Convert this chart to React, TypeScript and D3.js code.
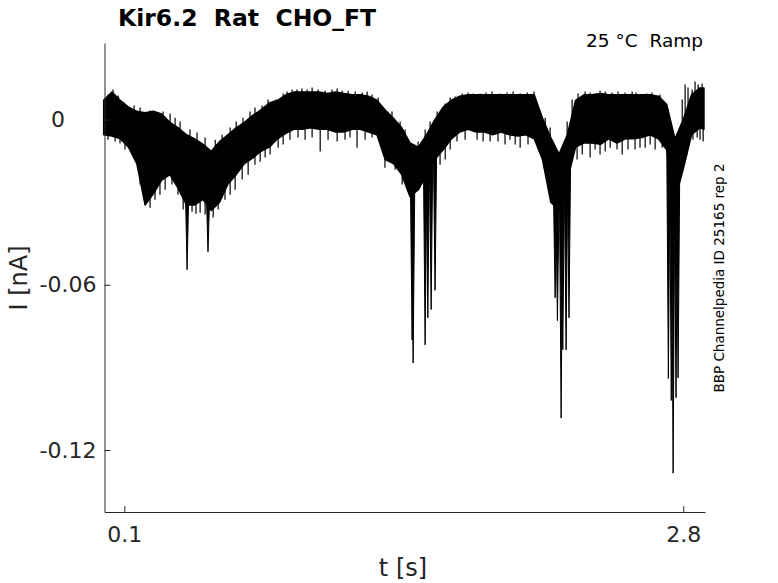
import {useEffect, useRef} from "react";
import * as d3 from "d3";

const SvgWidth = 778;
const SvgHeight = 583;

// envelope of the overlaid sweeps (t in s, I in nA)
const tBand = [0, 0.04, 0.08, 0.12, 0.16, 0.20, 0.24, 0.28, 0.32, 0.36, 0.40, 0.44, 0.48, 0.52, 0.56, 0.60,
    0.64, 0.68, 0.72, 0.76, 0.80, 0.84, 0.88, 0.92, 0.96, 1.00, 1.04, 1.08, 1.12, 1.16, 1.20, 1.24, 1.28,
    1.32, 1.36, 1.40, 1.44, 1.48, 1.52, 1.56, 1.60, 1.64, 1.68, 1.72, 1.76, 1.80, 1.84, 1.88, 1.92, 1.96,
    2.00, 2.04, 2.08, 2.12, 2.16, 2.20, 2.24, 2.28, 2.32, 2.36, 2.40, 2.44, 2.48, 2.52, 2.56, 2.60, 2.64,
    2.68, 2.72, 2.76, 2.80, 2.84, 2.88, 2.90];
const bandHi = [0.007, 0.010, 0.007, 0.0045, 0.003, 0.0025, 0.003, 0.002, -0.001, -0.003, -0.0055, -0.007,
    -0.009, -0.0115, -0.008, -0.0055, -0.003, -0.001, 0.0015, 0.0035, 0.006, 0.007, 0.009, 0.010, 0.010,
    0.010, 0.010, 0.0095, 0.010, 0.0095, 0.009, 0.009, 0.0085, 0.007, 0.0035, 0.0005, -0.003, -0.0085,
    -0.010, -0.0055, 0, 0.0045, 0.007, 0.0085, 0.009, 0.009, 0.009, 0.009, 0.009, 0.009, 0.009, 0.009,
    0.009, 0.0005, -0.0065, -0.0125, -0.0055, 0.007, 0.009, 0.009, 0.0095, 0.009, 0.009, 0.009, 0.009,
    0.009, 0.009, 0.0085, 0.0055, -0.007, 0, 0.009, 0.0115, 0.0115];
const bandLo = [-0.0055, -0.006, -0.007, -0.010, -0.016, -0.031, -0.027, -0.022, -0.020, -0.025, -0.031,
    -0.031, -0.029, -0.033, -0.030, -0.0235, -0.020, -0.016, -0.014, -0.0115, -0.010, -0.007, -0.005,
    -0.0035, -0.0035, -0.003, -0.0035, -0.0035, -0.0045, -0.0045, -0.0035, -0.0035, -0.0045, -0.0055,
    -0.0145, -0.016, -0.020, -0.028, -0.0255, -0.020, -0.0145, -0.011, -0.007, -0.0045, -0.0035, -0.0045,
    -0.0045, -0.0055, -0.0045, -0.0055, -0.006, -0.0055, -0.007, -0.0145, -0.030, -0.033, -0.022, -0.010,
    -0.0085, -0.0085, -0.009, -0.007, -0.0085, -0.007, -0.007, -0.0065, -0.0055, -0.007, -0.011, -0.029,
    -0.018, -0.0055, -0.003, -0.0035];

// deep inward transients (one per sweep, clustered)
const spikeT = [0.403, 0.504, 1.490, 1.495, 1.553, 1.566, 1.582, 1.601, 2.181, 2.192, 2.210, 2.218,
    2.234, 2.248, 2.728, 2.742, 2.751, 2.765, 2.775];
const spikeMin = [-0.0545, -0.048, -0.080, -0.0884, -0.0818, -0.072, -0.069, -0.062, -0.0647, -0.073,
    -0.1084, -0.0836, -0.0836, -0.072, -0.094, -0.102, -0.1284, -0.101, -0.0938];

// noise peaks above the band
const upT = [0.021, 0.045, 0.070, 0.099, 0.147, 0.176, 0.224, 0.248, 0.287, 0.321, 0.345, 0.369, 0.417,
    0.451, 0.490, 0.539, 0.572, 0.611, 0.640, 0.673, 0.707, 0.731, 0.765, 0.794, 0.833, 0.867, 0.886,
    0.910, 0.934, 0.958, 0.983, 1.007, 1.036, 1.070, 1.103, 1.128, 1.152, 1.181, 1.215, 1.249, 1.273,
    1.297, 1.326, 1.350, 1.393, 1.432, 1.456, 1.519, 1.553, 1.577, 1.611, 1.649, 1.674, 1.698, 1.732,
    1.761, 1.785, 1.818, 1.847, 1.876, 1.915, 1.949, 1.978, 2.012, 2.046, 2.079, 2.133, 2.157, 2.239,
    2.263, 2.292, 2.326, 2.350, 2.379, 2.398, 2.423, 2.456, 2.485, 2.519, 2.553, 2.572, 2.591, 2.625,
    2.649, 2.688, 2.727, 2.795, 2.809, 2.823, 2.843, 2.857, 2.872, 2.891];
const upV = [0.0091, 0.0109, 0.0087, 0.0062, 0.0051, 0.0044, 0.0033, 0.0029, 0.0029, 0.0022, 0.0007,
    -0.0007, -0.0036, -0.0047, -0.0065, -0.0073, -0.0055, -0.0029, -0.0007, 0.0007, 0.0029, 0.0044,
    0.0051, 0.0073, 0.0073, 0.0095, 0.0102, 0.0109, 0.0109, 0.0113, 0.0109, 0.0116, 0.0109, 0.0105,
    0.0109, 0.0113, 0.0105, 0.0105, 0.0102, 0.0098, 0.0102, 0.0091, 0.0080, 0.0044, 0.0029, -0.0007,
    -0.0036, -0.0080, -0.0036, -0.0007, 0.0029, 0.0058, 0.0080, 0.0084, 0.0095, 0.0098, 0.0095, 0.0095,
    0.0098, 0.0102, 0.0095, 0.0098, 0.0102, 0.0095, 0.0098, 0.0102, 0.0007, -0.0029, -0.0007, 0.0073,
    0.0095, 0.0102, 0.0098, 0.0095, 0.0105, 0.0102, 0.0098, 0.0102, 0.0098, 0.0102, 0.0098, 0.0091,
    0.0095, 0.0098, 0.0091, 0.0036, 0.0073, 0.0127, 0.0116, 0.0109, 0.0138, 0.0127, 0.0131];

// noise dips below the band
const downT = [0.021, 0.055, 0.079, 0.103, 0.128, 0.176, 0.224, 0.248, 0.272, 0.297, 0.330, 0.359, 0.384,
    0.427, 0.446, 0.466, 0.490, 0.529, 0.553, 0.586, 0.611, 0.635, 0.669, 0.698, 0.731, 0.756, 0.780,
    0.804, 0.843, 0.867, 0.900, 0.939, 0.973, 1.007, 1.046, 1.084, 1.128, 1.166, 1.190, 1.224, 1.263,
    1.297, 1.336, 1.359, 1.408, 1.442, 1.625, 1.650, 1.674, 1.707, 1.746, 1.804, 1.833, 1.867, 1.905,
    1.939, 1.963, 1.988, 2.012, 2.050, 2.099, 2.287, 2.312, 2.350, 2.374, 2.398, 2.423, 2.447, 2.480,
    2.505, 2.533, 2.567, 2.591, 2.616, 2.640, 2.664, 2.698, 2.818, 2.847, 2.867, 2.881, 2.896];
const downV = [-0.0073, -0.0080, -0.0087, -0.0109, -0.0109, -0.0236, -0.0320, -0.0291, -0.0273, -0.0255,
    -0.0236, -0.0273, -0.0327, -0.0335, -0.0342, -0.0338, -0.0345, -0.0356, -0.0327, -0.0291, -0.0273,
    -0.0255, -0.0218, -0.0200, -0.0164, -0.0153, -0.0138, -0.0127, -0.0102, -0.0091, -0.0073, -0.0065,
    -0.0073, -0.0065, -0.0116, -0.0073, -0.0080, -0.0073, -0.0065, -0.0102, -0.0073, -0.0065, -0.0091,
    -0.0175, -0.0182, -0.0236, -0.0164, -0.0145, -0.0109, -0.0080, -0.0073, -0.0073, -0.0080, -0.0080,
    -0.0080, -0.0091, -0.0073, -0.0091, -0.0102, -0.0091, -0.0109, -0.0145, -0.0127, -0.0138, -0.0109,
    -0.0127, -0.0116, -0.0102, -0.0109, -0.0127, -0.0109, -0.0109, -0.0102, -0.0102, -0.0091, -0.0109,
    -0.0102, -0.0127, -0.0073, -0.0065, -0.0073, -0.0080];

const xTicks = [0.1, 2.8];
const yTicks = [-0.12, -0.06, 0];

const axisColor = "#262626";
const traceColor = "#000000";
const font = "DejaVu Sans, sans-serif";

function bandAt(arr, t){
    let i = d3.bisectLeft(tBand, t);
    if(i <= 0) return arr[0];
    if(i >= tBand.length) return arr[arr.length - 1];
    let f = (t - tBand[i - 1]) / (tBand[i] - tBand[i - 1]);
    return arr[i - 1] + f * (arr[i] - arr[i - 1]);
}

function tickLabel(d){
    // plain hyphen-minus like the original figure
    return d3.format("~g")(d).replace("\u2212", "-");
}

function App(){
    const xAxisRef = useRef(null);
    const yAxisRef = useRef(null);

    const left = 104.5;
    const right = 705;
    const top = 43;
    const bottom = 512;

    const xScale = d3.scaleLinear().domain([0.004, 2.905]).range([left, right]);
    const yScale = d3.scaleLinear().domain([-0.1425, 0.0278]).range([bottom, top]);

    const band = d3.area()
        // @ts-ignore
        .x((d, i) => xScale(tBand[i]))
        // @ts-ignore
        .y0((d, i) => yScale(bandLo[i]))
        // @ts-ignore
        .y1((d, i) => yScale(bandHi[i]));

    const line = d3.line();
    const halfW = 0.008;

    const whiskT = upT.concat(downT);
    const whiskV = upV.concat(downV);

    useEffect(() => {
        let xAxisElm = d3.select(xAxisRef.current);
        let yAxisElm = d3.select(yAxisRef.current);

        if(xAxisElm){
            xAxisElm.call(d3.axisBottom(xScale).tickValues(xTicks).tickSizeInner(-6).tickSizeOuter(0)
                .tickPadding(14).tickFormat(tickLabel));
            xAxisElm.select(".domain").attr("stroke", axisColor);
            xAxisElm.selectAll(".tick line").attr("stroke", axisColor);
            xAxisElm.selectAll(".tick text").attr("fill", axisColor).attr("font-size", 22)
                .attr("font-family", font);
        }
        if(yAxisElm){
            yAxisElm.call(d3.axisLeft(yScale).tickValues(yTicks).tickSizeInner(-6).tickSizeOuter(0)
                .tickPadding(8).tickFormat(tickLabel));
            yAxisElm.select(".domain").attr("stroke", axisColor);
            yAxisElm.selectAll(".tick line").attr("stroke", axisColor);
            yAxisElm.selectAll(".tick text").attr("fill", axisColor).attr("font-size", 22)
                .attr("font-family", font);
            // the zero label sits further left in the original
            yAxisElm.selectAll(".tick text").filter(d => d === 0).attr("x", -39.5);
        }
    }, [xScale, yScale]);

    return (
        <svg width={SvgWidth} height={SvgHeight} style={{position: "absolute", left: 0, top: 0, background: "#fff"}}>
            <g>
                <path d={band(tBand)} fill={traceColor} stroke={traceColor} strokeWidth={1.5} strokeLinejoin="round" />
                {whiskT.map((t, i) => (
                    <line key={"w" + i}
                          x1={xScale(t)} x2={xScale(t)}
                          y1={yScale(whiskV[i])}
                          y2={yScale((bandAt(bandHi, t) + bandAt(bandLo, t)) / 2)}
                          stroke={traceColor} strokeWidth={1.2} />
                ))}
                {spikeT.map((t, i) => (
                    <path key={"s" + i}
                          d={line([
                              [xScale(t - halfW), yScale(bandAt(bandLo, t - halfW) + 0.004)],
                              [xScale(t), yScale(spikeMin[i])],
                              [xScale(t + halfW), yScale(bandAt(bandLo, t + halfW) + 0.004)]
                          ])}
                          fill={traceColor} stroke={traceColor} strokeWidth={1} strokeLinejoin="miter" />
                ))}
            </g>
            <g ref={xAxisRef} transform={`translate(0,${bottom})`}></g>
            <g ref={yAxisRef} transform={`translate(${left},0)`}></g>
            <text x={118} y={26} fontSize={23.5} fontWeight="bold" fontFamily={font} fill="#000" style={{whiteSpace: "pre"}}>
                Kir6.2  Rat  CHO_FT
            </text>
            <text x={703} y={47} fontSize={18.5} textAnchor="end" fontFamily={font} fill="#000" style={{whiteSpace: "pre"}}>
                25 °C  Ramp
            </text>
            <text x={403} y={576} fontSize={24} textAnchor="middle" fontFamily={font} fill={axisColor}>
                t [s]
            </text>
            <text transform="translate(27,278) rotate(-90)" fontSize={24} textAnchor="middle" fontFamily={font} fill={axisColor}>
                I [nA]
            </text>
            <text transform="translate(724,278) rotate(-90)" fontSize={13.5} textAnchor="middle" fontFamily={font} fill="#000">
                BBP Channelpedia ID 25165 rep 2
            </text>
        </svg>
    );
}

export default App;
